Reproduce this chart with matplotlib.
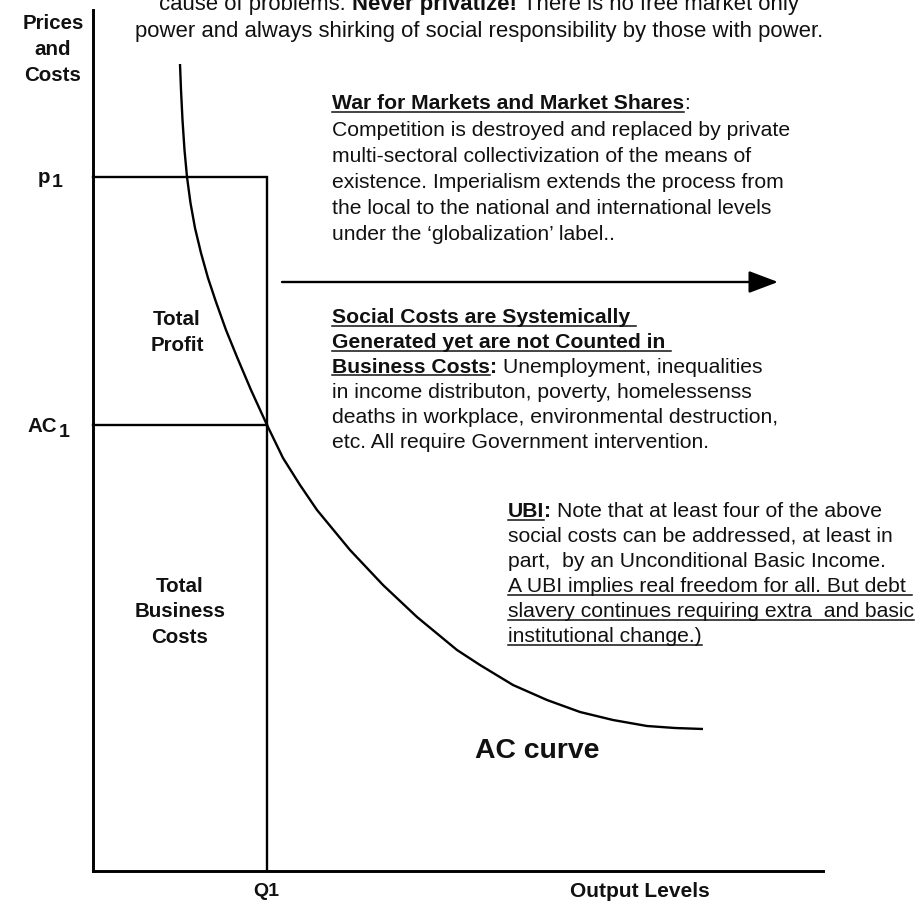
import matplotlib
matplotlib.use("Agg")
import matplotlib.pyplot as plt
from matplotlib.lines import Line2D

# ---------------- data (output units along x, price/cost units along y) ----------------
q1 = 174
p1 = 694
ac1 = 446
curve_q = [87, 88, 89.5, 91.5, 94, 97.5, 102, 108, 115, 123, 133, 144, 158, 174,
           190, 207, 224, 257, 290, 324, 364, 387, 420, 454, 487, 520, 554, 582, 610]
curve_ac = [807, 781, 751, 721, 694, 668, 643, 618, 593, 569, 541, 514, 481, 446,
            413, 386, 361, 321, 286, 254, 221, 206, 186, 171, 159, 151, 145, 143, 142]
arrow_level = 589
arrow_start, arrow_end = 189, 685
x_max, y_max = 730, 861

FONT = "Liberation Sans"
W, H = 920, 901

fig = plt.figure(figsize=(W / 100, H / 100), dpi=100)
renderer = fig.canvas.get_renderer()


def fx(x):
    return x / W


def fy(y):
    return 1 - y / H


# ---------------- axes & marks ----------------
ax = fig.add_axes([93 / W, 1 - 871 / H, 730 / W, 861 / H])
ax.set_xlim(0, x_max)
ax.set_ylim(0, y_max)
for s in ("top", "right"):
    ax.spines[s].set_visible(False)
for s in ("left", "bottom"):
    ax.spines[s].set_linewidth(2.1)
ax.set_xticks([])
ax.set_yticks([])
ax.patch.set_alpha(0)

lw = 1.7
ax.plot([0, q1, q1], [p1, p1, 0], color="black", lw=lw, solid_joinstyle="miter", clip_on=False)
ax.plot([0, q1], [ac1, ac1], color="black", lw=lw, clip_on=False)
ax.plot(curve_q, curve_ac, color="black", lw=lw, clip_on=False,
        solid_joinstyle="round", solid_capstyle="butt")
ax.annotate("", xy=(arrow_end, arrow_level), xytext=(arrow_start, arrow_level),
            arrowprops=dict(arrowstyle="-|>,head_length=0.9,head_width=0.34",
                            mutation_scale=20, lw=lw, color="black",
                            shrinkA=0, shrinkB=0))

# ---------------- text helpers ----------------
_space_cache = {}


def space_width(size, weight):
    key = (size, weight)
    if key not in _space_cache:
        t1 = fig.text(0, 0, "x x", fontsize=size, fontweight=weight, family=FONT)
        t2 = fig.text(0, 0, "xx", fontsize=size, fontweight=weight, family=FONT)
        w = t1.get_window_extent(renderer).width - t2.get_window_extent(renderer).width
        t1.remove()
        t2.remove()
        _space_cache[key] = w
    return _space_cache[key]


def text_width(s, size, weight):
    t = fig.text(0, 0, s, fontsize=size, fontweight=weight, family=FONT)
    w = t.get_window_extent(renderer).width
    t.remove()
    return w


def seg_width(s, size, weight):
    core = s.strip(" ")
    lead = len(s) - len(s.lstrip(" "))
    trail = len(s) - len(s.rstrip(" "))
    sw = space_width(size, weight)
    w = text_width(core, size, weight) if core else 0
    return lead * sw, w, trail * sw


def draw_line(x, y, segments, size=15.2, center=False):
    widths = [seg_width(t, size, wt) for t, wt, ul in segments]
    total = sum(a + b + c for a, b, c in widths)
    cur = x - total / 2 if center else x
    for (t, wt, ul), (a, b, c) in zip(segments, widths):
        core = t.strip(" ")
        start = cur
        cur += a
        if core:
            fig.text(fx(cur), fy(y), core, fontsize=size, fontweight=wt,
                     family=FONT, ha="left", va="baseline", color="#111111")
        cur += b + c
        if ul:
            fig.add_artist(Line2D([fx(start + a), fx(cur)], [fy(y + 2.5)] * 2,
                                  lw=1.1, color="#111111"))


def label(x, y, s, size=14.8, ha="center"):
    fig.text(fx(x), fy(y), s, fontsize=size, fontweight="bold", family=FONT,
             ha=ha, va="baseline", color="#111111")


N, B = "normal", "bold"

# top text (partly cut at the top edge, as in the source)
draw_line(479, 10, [("cause of problems. ", N, False), ("Never privatize!", B, False),
                    (" There is no free market only", N, False)], size=15.9, center=True)
draw_line(479, 37, [("power and always shirking of social responsibility by those with power.", N, False)],
          size=15.9, center=True)

# war block
draw_line(332, 109, [("War for Markets and Market Shares", B, True), (":", N, False)])
war_lines = ["Competition is destroyed and replaced by private",
             "multi-sectoral collectivization of the means of",
             "existence. Imperialism extends the process from",
             "the local to the national and international levels",
             "under the \u2018globalization\u2019 label.."]
for i, s in enumerate(war_lines):
    draw_line(332, 136 + 26 * i, [(s, N, False)])

# social costs block
draw_line(332, 323, [("Social Costs are Systemically ", B, True)])
draw_line(332, 348, [("Generated yet are not Counted in ", B, True)])
draw_line(332, 373, [("Business Costs", B, True), (":", B, False), (" Unemployment, inequalities", N, False)])
soc_lines = ["in income distributon, poverty, homelessenss",
             "deaths in workplace, environmental destruction,",
             "etc. All require Government intervention."]
for i, s in enumerate(soc_lines):
    draw_line(332, 398 + 25 * i, [(s, N, False)])

# UBI block
draw_line(508, 517, [("UBI", B, True), (":", B, False), (" Note that at least four of the above", N, False)])
draw_line(508, 542, [("social costs can be addressed, at least in", N, False)])
draw_line(508, 567, [("part,  by an Unconditional Basic Income.", N, False)])
draw_line(508, 592, [("A UBI implies real freedom for all. But debt ", N, True)])
draw_line(508, 617, [("slavery continues requiring extra  and basic", N, True)])
draw_line(508, 642, [("institutional change.)", N, True)])

# axis labels & region labels
label(53, 29, "Prices")
label(53, 55, "and")
label(53, 81, "Costs")
label(38, 183, "p", ha="left")
label(52, 187, "1", size=14, ha="left")
label(27, 432, "AC", ha="left")
label(59, 437, "1", size=14, ha="left")
label(177, 325, "Total")
label(177, 351, "Profit")
label(180, 592, "Total")
label(180, 617, "Business")
label(180, 643, "Costs")
label(475, 758, "AC curve", size=20.4, ha="left")
label(266, 896, "Q1", size=14)
label(570, 897, "Output Levels", size=15, ha="left")

fig.savefig("out.png", dpi=100)
